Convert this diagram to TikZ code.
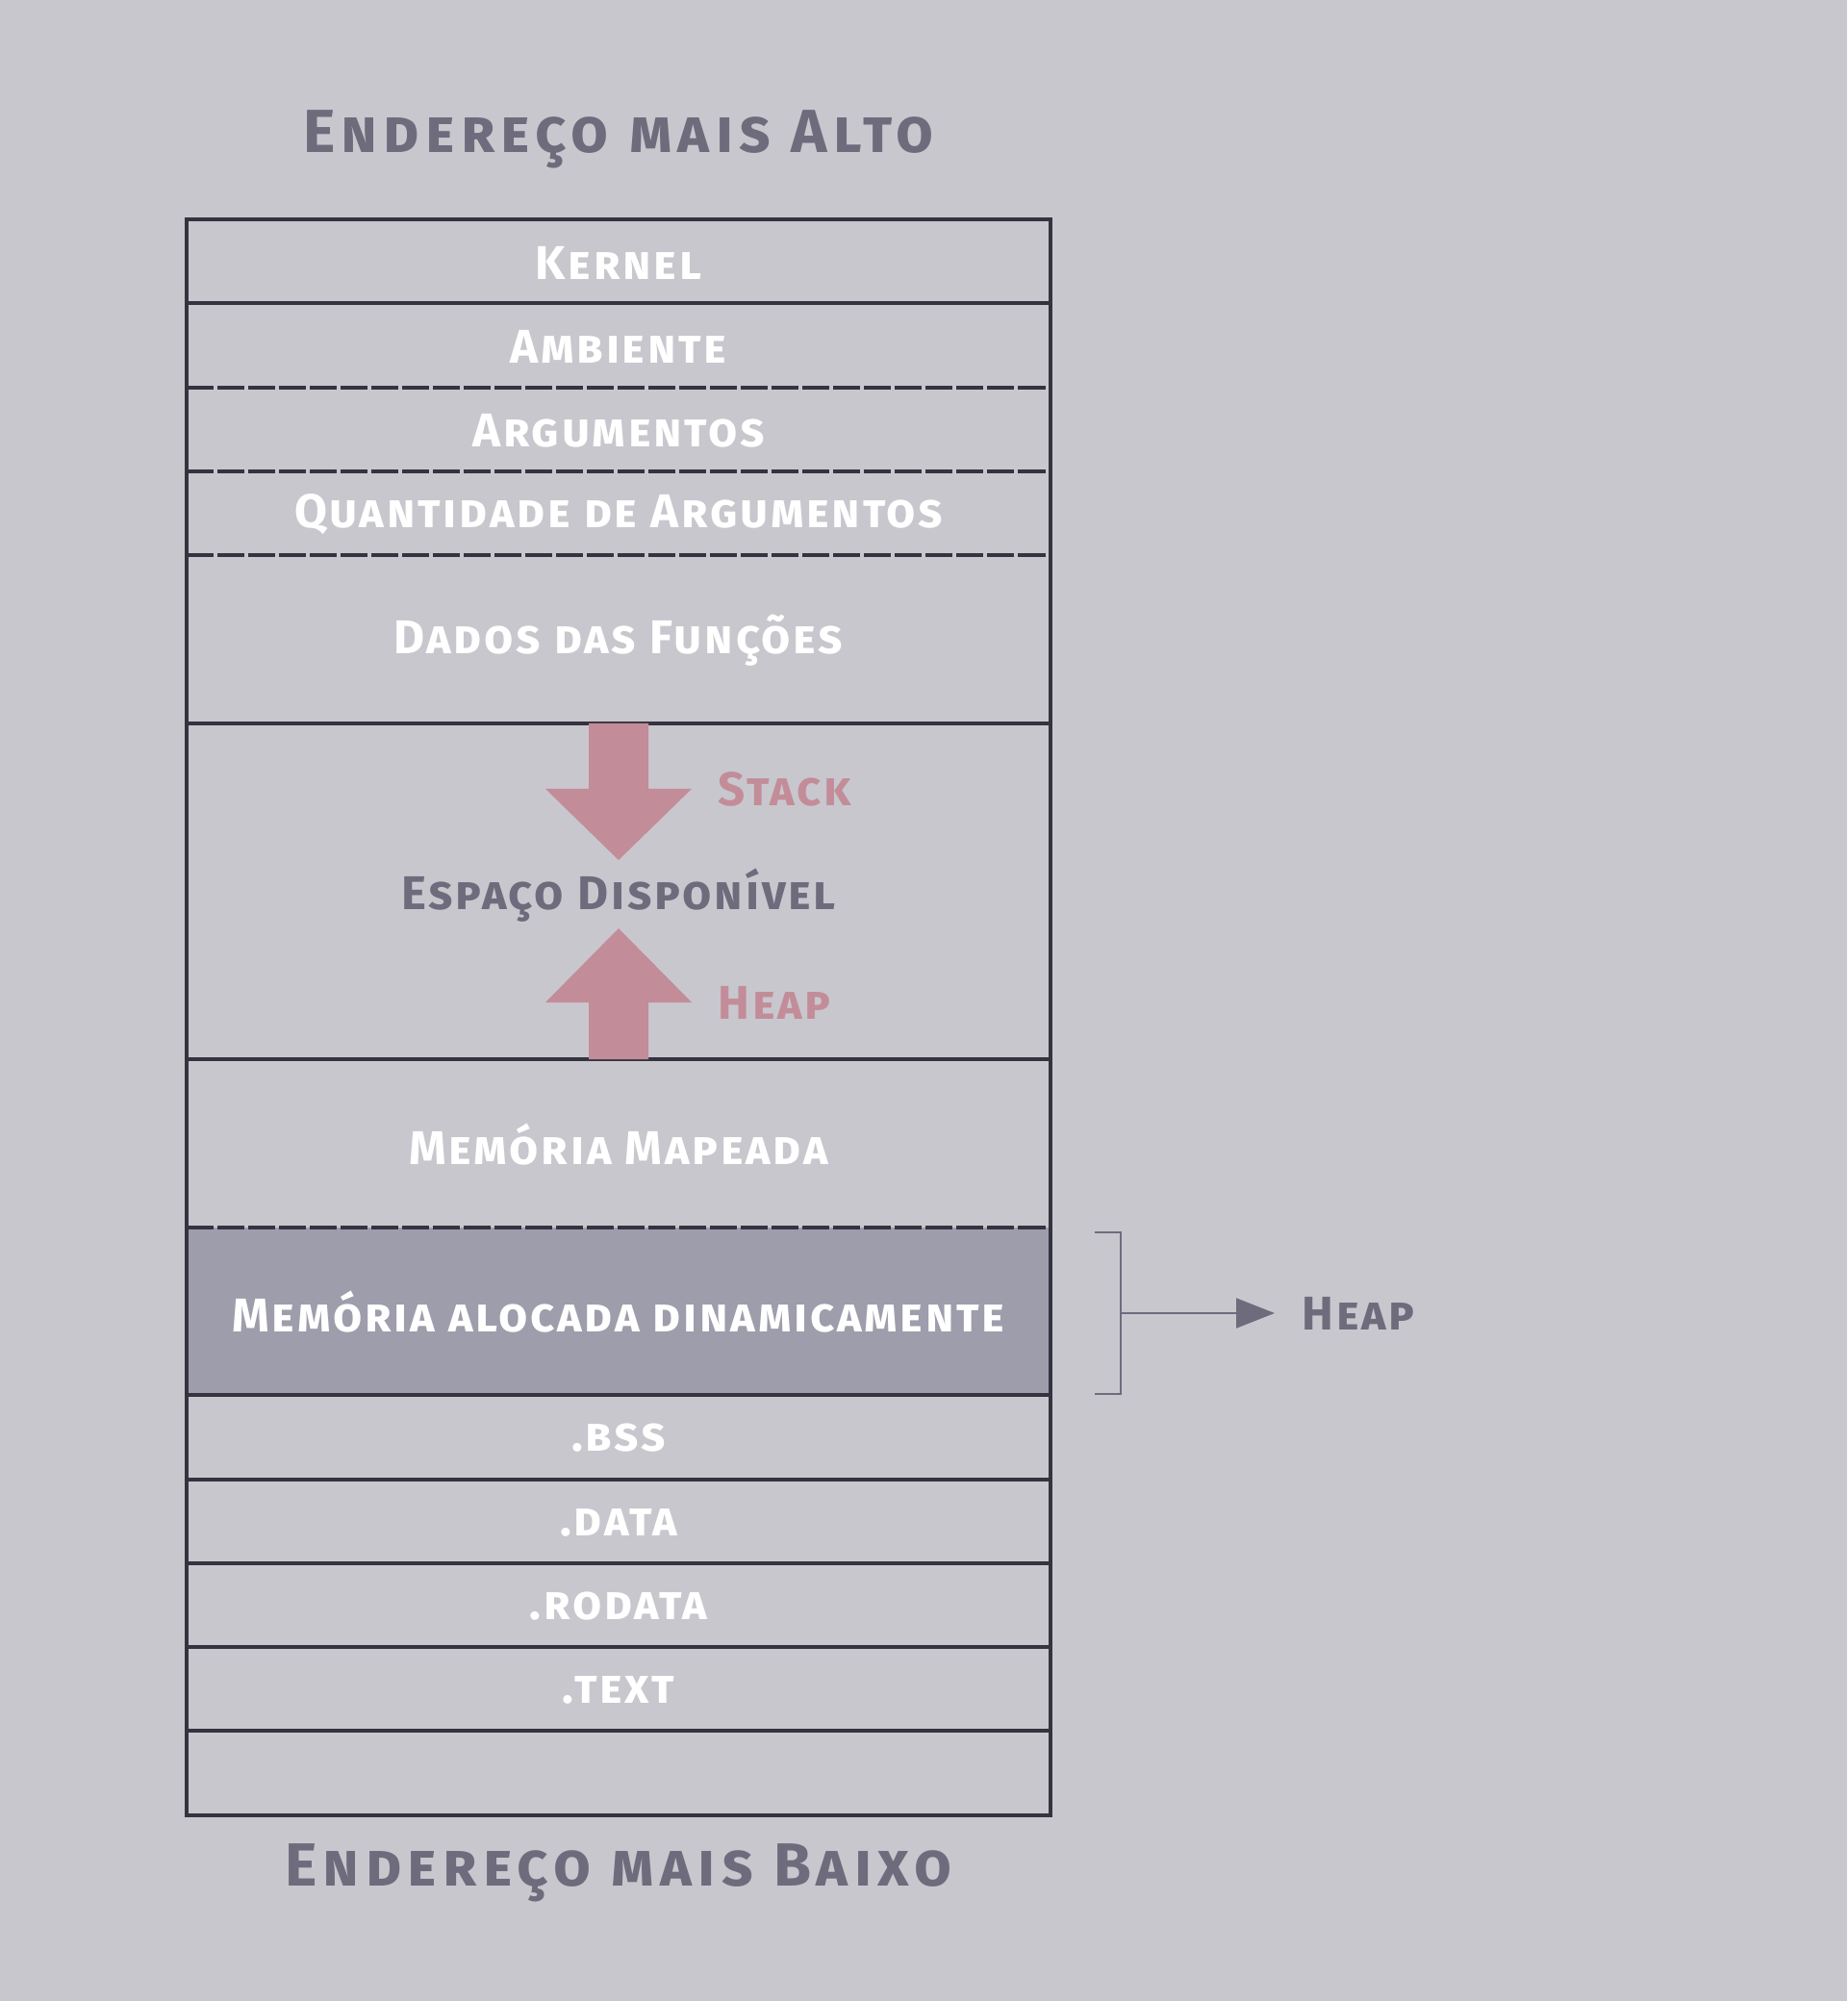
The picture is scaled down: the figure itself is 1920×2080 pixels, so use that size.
\documentclass[tikz,border=0pt]{standalone}
\usepackage{fontspec}
\setmainfont{Fira Sans}
\usetikzlibrary{arrows.meta}
\definecolor{bgcol}{HTML}{C8C7CE}
\definecolor{linecol}{HTML}{35333F}
\definecolor{heapcol}{HTML}{9E9DAC}
\definecolor{titlecol}{HTML}{6E6C7C}
\definecolor{growcol}{HTML}{C28D98}
\newcommand{\pix}[2]{\bfseries\scshape\addfontfeature{LetterSpace=#2}\fontsize{#1}{#1}\selectfont}

\begin{document}
\begin{tikzpicture}[x=0.01cm,y=-0.01cm,
    seg/.style={text=white,font=\pix{14}{5.5}},
    title/.style={text=titlecol,font=\pix{18}{10}},
    growlbl/.style={text=growcol,font=\pix{14}{5.5},anchor=west,inner sep=0pt},
    sep/.style={draw=linecol,line width=0.04cm},
    dsep/.style={sep,dash pattern=on 0.28cm off 0.04cm}]
  \useasboundingbox[fill=bgcol] (0,0) rectangle (1920,2080);

  \fill[heapcol] (194,1275.6) rectangle (1092,1450.2);

  % separators
  \foreach \y in {315.3,751.8,1101,1450.2,1537.5,1624.8,1712.1,1799.4}
    \draw[sep] (194,\y) -- (1092,\y);
  \foreach \y in {402.6,489.9,577.2,1275.6}
    \draw[dsep] (194,\y) -- (1092,\y);
  \draw[sep] (194,228) rectangle (1092,1886.7);

  % stack / heap growth
  \fill[growcol] (612,751.8) -- (674,751.8) -- (674,820) -- (719,820) -- (643,894)
    -- (567,820) -- (612,820) -- cycle;
  \fill[growcol] (612,1101) -- (612,1042) -- (567,1042) -- (643,965) -- (719,1042)
    -- (674,1042) -- (674,1101) -- cycle;

  \node[title] (top) at (643,145) {Endereço mais Alto};
  \node[seg] (kernel) at (643,273) {Kernel};
  \node[seg] (env) at (643,360) {Ambiente};
  \node[seg] (argv) at (643,447.5) {Argumentos};
  \node[seg] (argc) at (643,535) {Quantidade de Argumentos};
  \node[seg] (frames) at (643,666) {Dados das Funções};
  \node[seg,text=titlecol] (free) at (643,931) {Espaço Disponível};
  \node[growlbl] (stack) at (746,820) {Stack};
  \node[growlbl] (heapin) at (746,1042) {Heap};
  \node[seg] (mmap) at (643,1189.5) {Memória Mapeada};
  \node[seg] (dyn) at (643,1364) {Memória alocada dinamicamente};
  \node[seg] (bss) at (643,1495) {.bss};
  \node[seg] (data) at (643,1582.5) {.data};
  \node[seg] (rodata) at (643,1669.5) {.rodata};
  \node[seg] (text) at (643,1757) {.text};
  \node[title] (bottom) at (643,1947) {Endereço mais Baixo};

  % bracket
  \draw[titlecol,line width=0.02cm] (1138,1281) -- (1165,1281) -- (1165,1449) -- (1138,1449);
  \coordinate (brk) at (1165,1365);
  \node[text=titlecol,font=\pix{14}{5.5},anchor=west,inner sep=8pt] (heapout) at (1325,1365) {Heap};
  \draw[titlecol,line width=0.02cm,-{Triangle[length=0.4cm,width=0.31cm]}] (brk) -- (heapout.west);
\end{tikzpicture}
\end{document}
